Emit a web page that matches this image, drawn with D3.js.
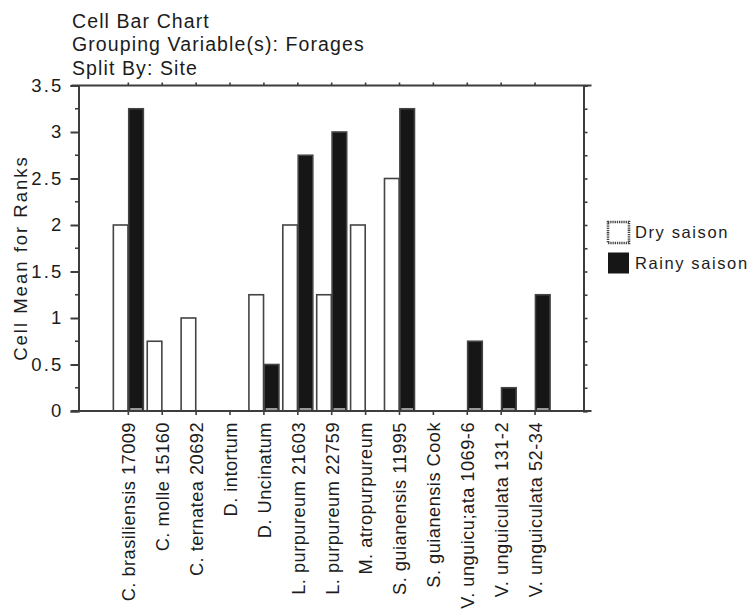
<!DOCTYPE html>
<html>
<head>
<meta charset="utf-8">
<script src="https://cdn.jsdelivr.net/npm/d3@7/dist/d3.min.js"></script>
<style>
  html, body { margin: 0; padding: 0; background: #fff; }
  svg { display: block; }
  text { font-family: "Liberation Sans", Arial, Helvetica, sans-serif; fill: #1c1c1c; }
</style>
</head>
<body>
<svg id="chart" width="751" height="611"></svg>
<script>
// Forage accessions (x categories)
const categories = [
  "C. brasiliensis 17009", "C. molle 15160", "C. ternatea 20692", "D. intortum",
  "D. Uncinatum", "L. purpureum 21603", "L. purpureum 22759", "M. atropurpureum",
  "S. guianensis 11995", "S. guianensis Cook", "V. unguicu;ata 1069-6",
  "V. unguiculata 131-2", "V. unguiculata 52-34"
];
const seriesNames = ["Dry saison", "Rainy saison"];
// Cell mean for ranks per season
const dryValues   = [2, 0.75, 1, 0, 1.25, 2, 1.25, 2, 2.5, 0, 0, 0, 0];
const rainyValues = [3.25, 0, 0, 0, 0.5, 2.75, 3, 0, 3.25, 0, 0.75, 0.25, 1.25];
const yTickValues = [0, 0.5, 1, 1.5, 2, 2.5, 3, 3.5];
const titleLines = ["Cell Bar Chart", "Grouping Variable(s): Forages", "Split By: Site"];
const yTitle = "Cell Mean for Ranks";

const svg = d3.select("#chart");
const frame = { left: 78.5, right: 583.5, top: 85.5, bottom: 411 };
const axisColor = "#3d3d3d";

const y = d3.scaleLinear().domain([0, 3.5]).range([frame.bottom, frame.top]);
const x = d3.scaleBand().domain(categories).range([111.4, 552]);
const inner = d3.scaleBand().domain(seriesNames).range([-15, 15]).paddingInner(0.05);

const rows = categories.map((c, i) => ({ cat: c, values: [
  { s: seriesNames[0], v: dryValues[i] },
  { s: seriesNames[1], v: rainyValues[i] }
]}));

const fills = { "Dry saison": "#ffffff", "Rainy saison": "#161616" };

// Bars
const groups = svg.append("g").selectAll("g").data(rows).join("g")
  .attr("transform", d => `translate(${x(d.cat) + x.bandwidth() / 2},0)`);
groups.selectAll("rect.bar").data(d => d.values.filter(e => e.v > 0)).join("rect")
  .attr("class", "bar")
  .attr("x", e => inner(e.s))
  .attr("width", inner.bandwidth())
  .attr("y", e => y(e.v))
  .attr("height", e => y(0) - y(e.v))
  .attr("fill", e => fills[e.s])
  .attr("stroke", "#444")
  .attr("stroke-width", 1.6);
// light strip along the base of each filled bar
groups.selectAll("rect.base").data(d => d.values.filter(e => e.v > 0 && e.s === "Rainy saison")).join("rect")
  .attr("class", "base")
  .attr("x", e => inner(e.s) + 1.5)
  .attr("width", inner.bandwidth() - 3)
  .attr("y", y(0) - 3)
  .attr("height", 2)
  .attr("fill", "#9a9a9a");

// Frame lines (top and bottom run a little past the right side)
const ext = 8;
svg.append("line").attr("x1", frame.left - 7).attr("x2", frame.right + ext)
  .attr("y1", frame.bottom).attr("y2", frame.bottom)
  .attr("stroke", axisColor).attr("stroke-width", 2);
svg.append("line").attr("x1", frame.left - 7).attr("x2", frame.right + ext)
  .attr("y1", frame.top).attr("y2", frame.top)
  .attr("stroke", axisColor).attr("stroke-width", 2);

// Left axis: major ticks with labels, minor ticks between
const minorTicks = d3.range(0, 3.5001, 0.25);
const yAxis = d3.axisLeft(y).tickValues(yTickValues).tickSize(8).tickPadding(7)
  .tickFormat(d3.format("~g"));
const gy = svg.append("g").attr("transform", `translate(${frame.left},0)`).call(yAxis);
gy.select(".domain").attr("stroke", axisColor).attr("stroke-width", 2);
gy.selectAll(".tick line").attr("stroke", axisColor).attr("stroke-width", 2);
gy.selectAll(".tick text").attr("font-size", 18.5).style("letter-spacing", "2.2px")
  .attr("font-family", null).attr("fill", "#1c1c1c");
svg.append("g").selectAll("line").data(minorTicks.filter(v => !yTickValues.includes(v))).join("line")
  .attr("x1", frame.left - 3.5).attr("x2", frame.left)
  .attr("y1", d => y(d)).attr("y2", d => y(d))
  .attr("stroke", axisColor).attr("stroke-width", 1.6);

// Right axis with outward minor ticks
const gr = svg.append("g").attr("transform", `translate(${frame.right},0)`)
  .call(d3.axisRight(y).tickValues(minorTicks).tickSize(4).tickFormat(""));
gr.select(".domain").attr("stroke", axisColor).attr("stroke-width", 2);
gr.selectAll(".tick line").attr("stroke", axisColor).attr("stroke-width", 1.6);

// Bottom axis with category labels
const gx = svg.append("g").attr("transform", `translate(0,${frame.bottom})`)
  .call(d3.axisBottom(x).tickSize(4).tickPadding(0).tickSizeOuter(0));
gx.select(".domain").remove();
gx.selectAll(".tick line").attr("stroke", axisColor).attr("stroke-width", 1.6);
gx.selectAll(".tick text")
  .attr("font-size", 18.2).attr("font-family", null).attr("fill", "#1c1c1c")
  .style("letter-spacing", "0.5px")
  .attr("text-anchor", "end")
  .attr("dy", null).attr("y", 0)
  .attr("transform", "translate(6.8,11) rotate(-90)");

// Top axis ticks
const gt = svg.append("g").attr("transform", `translate(0,${frame.top})`)
  .call(d3.axisTop(x).tickSize(3).tickFormat("").tickSizeOuter(0));
gt.select(".domain").remove();
gt.selectAll(".tick line").attr("stroke", axisColor).attr("stroke-width", 1.6);

// Y title
svg.append("text")
  .attr("transform", `translate(27,258) rotate(-90)`)
  .attr("text-anchor", "middle")
  .attr("font-size", 18.5).style("letter-spacing", "2px")
  .text(yTitle);

// Chart title lines
svg.append("g").selectAll("text").data(titleLines).join("text")
  .attr("x", 72).attr("y", (d, i) => 28 + i * 23.3)
  .attr("font-size", 19.5).style("letter-spacing", "1.1px")
  .text(d => d);

// Legend
const legend = svg.append("g").attr("transform", "translate(607,221)");
const li = legend.selectAll("g").data(seriesNames).join("g")
  .attr("transform", (d, i) => `translate(0,${i * 31})`);
li.append("rect")
  .attr("x", d => d === "Dry saison" ? 1 : 1.5)
  .attr("y", 1)
  .attr("width", d => d === "Dry saison" ? 21 : 20)
  .attr("height", d => d === "Dry saison" ? 21 : 20)
  .attr("fill", d => fills[d])
  .attr("stroke", d => d === "Dry saison" ? "#444" : "#161616")
  .attr("stroke-width", d => d === "Dry saison" ? 2.6 : 1)
  .attr("stroke-dasharray", d => d === "Dry saison" ? "1.3 0.9" : null);
li.append("text")
  .attr("x", 28).attr("y", 17)
  .attr("font-size", 16.5).style("letter-spacing", "1.6px")
  .text(d => d);
</script>
</body>
</html>
